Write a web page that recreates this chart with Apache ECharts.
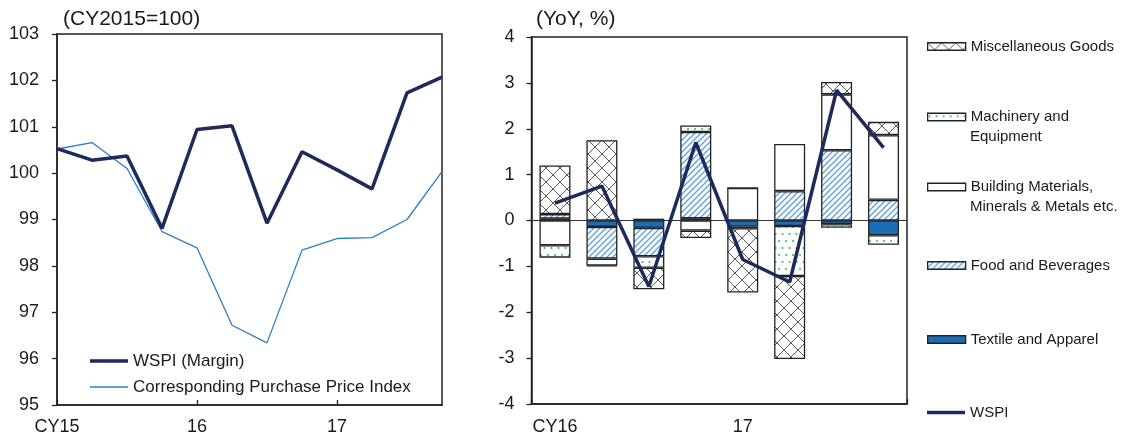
<!DOCTYPE html>
<html><head><meta charset="utf-8">
<script src="https://cdn.jsdelivr.net/npm/echarts@6/dist/echarts.min.js"></script>
<style>html,body{margin:0;padding:0;background:#fff}#c{width:1133px;height:436px}</style>
</head><body><div id="c"></div>
<script>
// ---- Left chart data ----
const leftCategories = ['2015Q1','2015Q2','2015Q3','2015Q4','2016Q1','2016Q2','2016Q3','2016Q4','2017Q1','2017Q2','2017Q3','2017Q4'];
const leftTickLabels = ['CY15','','','','16','','','','17','','',''];
const wspiMargin = [100.53, 100.28, 100.37, 98.81, 100.94, 101.02, 98.92, 100.46, 100.07, 99.66, 101.73, 102.07];
const purchasePrice = [100.52, 100.66, 100.10, 98.74, 98.39, 96.72, 96.34, 98.34, 98.59, 98.61, 99.00, 100.03];

// ---- Right chart data ----
const rightCategories = ['2016Q1','2016Q2','2016Q3','2016Q4','2017Q1','2017Q2','2017Q3','2017Q4'];
const rightTickLabels = ['CY16','','','','17','','',''];
const textile   = [0.04, -0.14, -0.16, 0.05, -0.13, -0.12, -0.08, -0.32];
const food      = [0.10, -0.69, -0.62, 1.88, -0.04, 0.64, 1.53, 0.45];
const building  = [-0.54, -0.15, 0.04, -0.22, 0.71, 1.03, 1.22, 1.41];
const machinery = [-0.27, -0.02, -0.25, 0.14, 0.00, -1.09, -0.08, -0.21];
const misc      = [1.06, 1.75, -0.47, -0.16, -1.40, -1.81, 0.27, 0.29];
const wspiYoY   = [0.38, 0.75, -1.44, 1.70, -0.85, -1.34, 2.84, 1.59];

// legend label lines (first line shown by legend, second line as extra text)
const legendFirstLine = {
  'Machinery and Equipment': 'Machinery and',
  'Building Materials, Minerals & Metals etc.': 'Building Materials,'
};
const legendSecondLine = {
  'Machinery and Equipment': 'Equipment',
  'Building Materials, Minerals & Metals etc.': 'Minerals & Metals etc.'
};

const FONT = "'Liberation Sans', Arial, sans-serif";
const TXT = '#1a1a1a';

function makePattern(w, h, draw) {
  const c = document.createElement('canvas');
  c.width = w; c.height = h;
  const ctx = c.getContext('2d');
  ctx.fillStyle = '#fff'; ctx.fillRect(0, 0, w, h);
  draw(ctx, w, h);
  return { image: c, repeat: 'repeat' };
}
const crossPat = makePattern(14, 14, (ctx, w, h) => {
  ctx.strokeStyle = '#5a5a5a'; ctx.lineWidth = 1;
  ctx.beginPath();
  ctx.moveTo(0, 0); ctx.lineTo(w, h);
  ctx.moveTo(w, 0); ctx.lineTo(0, h);
  ctx.stroke();
});
const hatchPat = makePattern(6, 6, (ctx, w, h) => {
  ctx.strokeStyle = '#6aa6de'; ctx.lineWidth = 1.5;
  ctx.beginPath();
  ctx.moveTo(-1, h + 1); ctx.lineTo(w + 1, -1);
  ctx.moveTo(-1, 1); ctx.lineTo(1, -1);
  ctx.moveTo(w - 1, h + 1); ctx.lineTo(w + 1, h - 1);
  ctx.stroke();
});
const dotPat = makePattern(7, 14, (ctx) => {
  ctx.fillStyle = '#3dbf6a';
  ctx.beginPath(); ctx.arc(2, 3, 1.1, 0, Math.PI * 2); ctx.fill();
  ctx.beginPath(); ctx.arc(5.5, 10, 1.1, 0, Math.PI * 2); ctx.fill();
});

const BORDER = { borderColor: '#222', borderWidth: 1.3 };

function rightLegend(name, top, isLine) {
  return {
    data: [name], orient: 'vertical', left: 927, top: top, padding: 0,
    itemWidth: 38, itemHeight: isLine ? 3.5 : 7.5, icon: 'rect',
    itemStyle: isLine ? { borderWidth: 0 } : { borderColor: '#222', borderWidth: 1.3 },
    formatter: (n) => legendFirstLine[n] || n,
    selectedMode: false,
    textStyle: { fontSize: 15, color: TXT, fontFamily: FONT, lineHeight: 18 }
  };
}
function leftLegend(name, top, h) {
  return {
    data: [name], orient: 'vertical', left: 90, top: top, padding: 0,
    itemWidth: 38, itemHeight: h, icon: 'rect', itemStyle: { borderWidth: 0 }, selectedMode: false,
    textStyle: { fontSize: 17, color: TXT, fontFamily: FONT, lineHeight: 20 }
  };
}
function secondLine(name, y) {
  return { type: 'text', x: 970, y: y, silent: true,
    style: { text: legendSecondLine[name], fill: TXT, font: "15px 'Liberation Sans', Arial, sans-serif", verticalAlign: 'middle', align: 'left' } };
}

const option = {
  animation: false,
  backgroundColor: '#fff',
  textStyle: { fontFamily: FONT },
  title: [
    { text: '(CY2015=100)', left: 63, top: 9, padding: 0, textStyle: { fontSize: 21, fontWeight: 'normal', color: TXT, fontFamily: FONT } },
    { text: '(YoY, %)', left: 536, top: 9, padding: 0, textStyle: { fontSize: 21, fontWeight: 'normal', color: TXT, fontFamily: FONT } }
  ],
  legend: [
    leftLegend('WSPI (Margin)', 351, 3.5),
    leftLegend('Corresponding Purchase Price Index', 377, 1.3),
    rightLegend('Miscellaneous Goods', 37.5),
    rightLegend('Machinery and Equipment', 108),
    rightLegend('Building Materials, Minerals & Metals etc.', 178),
    rightLegend('Food and Beverages', 256.5),
    rightLegend('Textile and Apparel', 330.5),
    rightLegend('WSPI', 403.5, true)
  ],
  graphic: [
    secondLine('Machinery and Equipment', 136.5),
    secondLine('Building Materials, Minerals & Metals etc.', 207)
  ],
  grid: [
    { left: 57, width: 385, top: 34, height: 371, show: true, borderColor: '#222', borderWidth: 1.5, backgroundColor: 'transparent' },
    { left: 531.5, width: 375.5, top: 37, height: 368, show: true, borderColor: '#222', borderWidth: 1.5, backgroundColor: 'transparent' }
  ],
  xAxis: [
    {
      type: 'category', gridIndex: 0, data: leftCategories, boundaryGap: false,
      axisLine: { lineStyle: { color: '#222', width: 1.5 } },
      axisTick: { show: true, inside: true, length: 5, interval: (i) => i % 4 === 0, lineStyle: { color: '#222', width: 1.3 } },
      axisLabel: { interval: 0, margin: 13, fontSize: 18, color: TXT, fontFamily: FONT, formatter: (v, i) => leftTickLabels[i] },
      splitLine: { show: false }
    },
    {
      type: 'category', gridIndex: 1, data: rightCategories, boundaryGap: true,
      axisLine: { onZero: false, lineStyle: { color: '#222', width: 1.5 } },
      axisTick: { show: true, inside: true, length: 5, interval: (i) => i === 4, lineStyle: { color: '#222', width: 1.3 } },
      axisLabel: { interval: 0, margin: 14, fontSize: 18, color: TXT, fontFamily: FONT, formatter: (v, i) => rightTickLabels[i] },
      splitLine: { show: false }
    }
  ],
  yAxis: [
    {
      type: 'value', gridIndex: 0, min: 95, max: 103, interval: 1,
      axisLine: { show: true, lineStyle: { color: '#222', width: 1.5 } },
      axisTick: { show: true, length: 5, lineStyle: { color: '#222', width: 1.3 } },
      axisLabel: { margin: 18, fontSize: 18, color: TXT, fontFamily: FONT },
      splitLine: { show: false }
    },
    {
      type: 'value', gridIndex: 1, min: -4, max: 4, interval: 1,
      axisLine: { show: true, lineStyle: { color: '#222', width: 1.5 } },
      axisTick: { show: true, length: 5, lineStyle: { color: '#222', width: 1.3 } },
      axisLabel: { margin: 17, fontSize: 18, color: TXT, fontFamily: FONT },
      splitLine: { show: false }
    }
  ],
  series: [
    {
      name: 'Corresponding Purchase Price Index', type: 'line', xAxisIndex: 0, yAxisIndex: 0,
      data: purchasePrice, symbol: 'none', lineStyle: { color: '#2a7fc9', width: 1.3 }, itemStyle: { color: '#2a7fc9' }
    },
    {
      name: 'WSPI (Margin)', type: 'line', xAxisIndex: 0, yAxisIndex: 0,
      data: wspiMargin, symbol: 'none', lineStyle: { color: '#1c2a5c', width: 3.5 }, itemStyle: { color: '#1c2a5c' }
    },
    {
      name: 'Textile and Apparel', type: 'bar', xAxisIndex: 1, yAxisIndex: 1, stack: 'c', barWidth: 31,
      data: textile, itemStyle: Object.assign({ color: '#1b6db8' }, BORDER),
      markLine: { silent: true, symbol: ['none', 'none'], label: { show: false },
        lineStyle: { color: '#333', width: 1, type: 'solid' }, data: [{ yAxis: 0 }] }
    },
    {
      name: 'Food and Beverages', type: 'bar', xAxisIndex: 1, yAxisIndex: 1, stack: 'c', barWidth: 31,
      data: food, itemStyle: Object.assign({ color: hatchPat }, BORDER)
    },
    {
      name: 'Building Materials, Minerals & Metals etc.', type: 'bar', xAxisIndex: 1, yAxisIndex: 1, stack: 'c', barWidth: 31,
      data: building, itemStyle: Object.assign({ color: '#ffffff' }, BORDER)
    },
    {
      name: 'Machinery and Equipment', type: 'bar', xAxisIndex: 1, yAxisIndex: 1, stack: 'c', barWidth: 31,
      data: machinery, itemStyle: Object.assign({ color: dotPat }, BORDER)
    },
    {
      name: 'Miscellaneous Goods', type: 'bar', xAxisIndex: 1, yAxisIndex: 1, stack: 'c', barWidth: 31,
      data: misc, itemStyle: Object.assign({ color: crossPat }, BORDER)
    },
    {
      name: 'WSPI', type: 'line', xAxisIndex: 1, yAxisIndex: 1,
      data: wspiYoY, symbol: 'none', z: 5, lineStyle: { color: '#1c2a5c', width: 3.5 }, itemStyle: { color: '#1c2a5c' }
    }
  ]
};
const chart = echarts.init(document.getElementById('c'), null, { renderer: 'canvas' });
chart.setOption(option);
</script>
</body></html>
